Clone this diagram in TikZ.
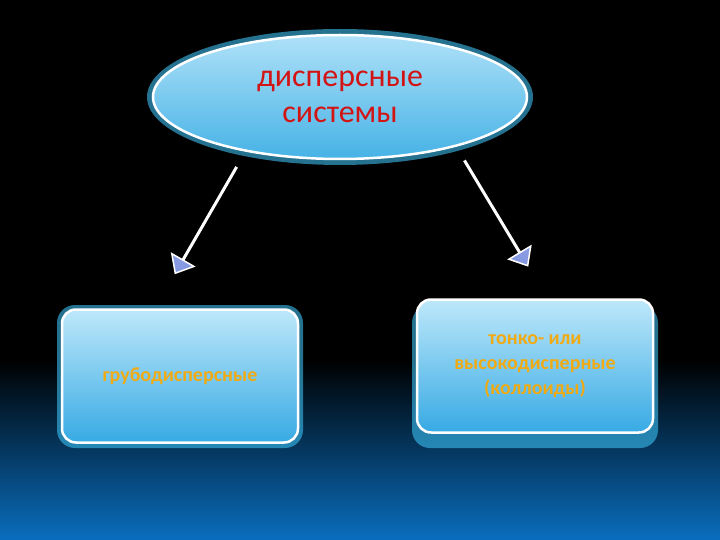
\documentclass[tikz,border=0pt]{standalone}
\usepackage{fontspec}
\setmainfont{Carlito}
\usetikzlibrary{shapes.arrows,shapes.geometric}
\definecolor{bluebot}{RGB}{10,110,190}
\definecolor{elltop}{RGB}{175,225,248}
\definecolor{ellbot}{RGB}{70,178,230}
\definecolor{boxtop}{RGB}{190,232,250}
\definecolor{boxbot}{RGB}{55,170,228}
\definecolor{glow}{RGB}{60,190,240}
\definecolor{arrfill}{RGB}{130,150,225}
\definecolor{txtred}{RGB}{210,20,20}
\definecolor{txtyel}{RGB}{240,170,20}
\tikzset{
  glowbox/.style={rounded corners=14pt, draw=white, line width=2.5pt, top color=boxtop, bottom color=boxbot,
    minimum width=236pt, minimum height=133pt, align=center, text=txtyel, font=\bfseries\fontsize{20}{25}\selectfont},
  blockarrow/.style={single arrow, draw=white, line width=1.5pt, top color=arrfill!60!white, bottom color=arrfill,
    minimum height=122pt, minimum width=24pt, single arrow head extend=12pt, inner sep=0pt,
    single arrow tip angle=80}
}
\begin{document}
\begin{tikzpicture}[x=1pt,y=-1pt]
\useasboundingbox (0,0) rectangle (720,540);
\fill[black] (0,0) rectangle (720,540);
\shade[top color=black, bottom color=bluebot] (0,360) rectangle (720,540);
% ellipse
\fill[glow, opacity=0.6] (340,97) ellipse [x radius=193, y radius=68];
\node[ellipse, draw=white, line width=2.5pt, top color=elltop, bottom color=ellbot,
  minimum width=374pt, minimum height=124pt, align=center, text=txtred,
  font=\fontsize{32}{36}\selectfont] (top) at (340,97) {дисперсные\\системы};
% arrows
\node[blockarrow, rotate=240] (la) at (206,220) {};
\node[blockarrow, rotate=301] (ra) at (496,213) {};
% boxes
\fill[glow, opacity=0.6, rounded corners=18pt] (57,305) rectangle (303,448);
\fill[glow, opacity=0.6, rounded corners=18pt] (412,305) rectangle (658,448);
\node[glowbox] (l) at (180,376) {грубодисперсные};
\node[glowbox] (r) at (535,366) {тонко- или\\высокодисперные\\(коллоиды)};
\end{tikzpicture}
\end{document}
